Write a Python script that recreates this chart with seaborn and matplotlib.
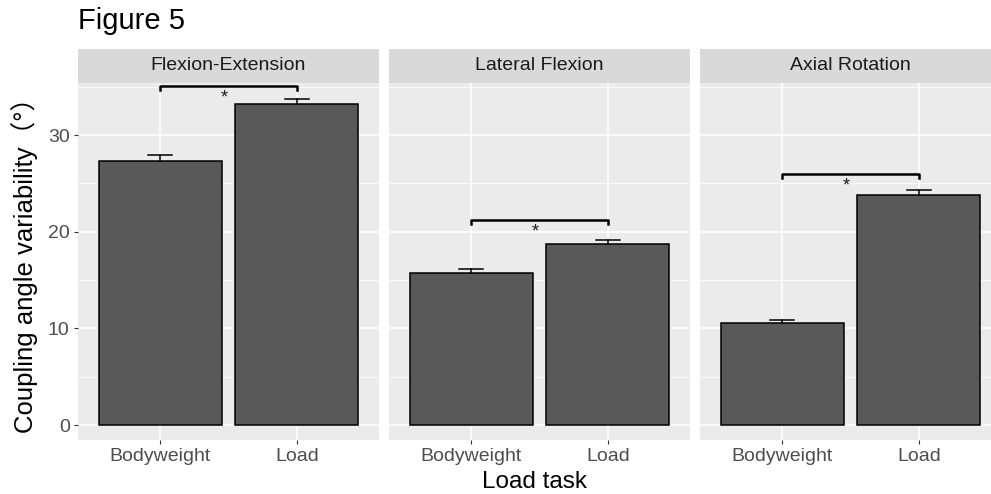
import numpy as np
import pandas as pd
import matplotlib
matplotlib.use("Agg")
import matplotlib.pyplot as plt
import seaborn as sns

# ---- data ----
panels = ["Flexion-Extension", "Lateral Flexion", "Axial Rotation"]
tasks = ["Bodyweight", "Load"]
means_fe = [27.3, 33.2]
means_lf = [15.7, 18.7]
means_ar = [10.55, 23.8]
se_fe = [0.6, 0.5]
se_lf = [0.5, 0.5]
se_ar = [0.3, 0.55]
bracket_y = [35.05, 21.2, 26.0]
means = [means_fe, means_lf, means_ar]
ses = [se_fe, se_lf, se_ar]
yticks = [0, 10, 20, 30]

plt.rcParams['font.family'] = ['Liberation Sans', 'Noto Sans CJK SC', 'DejaVu Sans']

W, H = 991, 494
fig = plt.figure(figsize=(W / 100, H / 100), dpi=100)

panel_left = [78, 389, 700]
panel_w = 301
panel_top = 83
panel_bot = 440
strip_top = 49

ylim = (-1.55, 35.4)
for i, name in enumerate(panels):
    l = panel_left[i]
    ax = fig.add_axes([l / W, (H - panel_bot) / H, panel_w / W, (panel_bot - panel_top) / H])
    ax.set_facecolor("#EBEBEB")
    df = pd.DataFrame({"task": tasks, "value": means[i], "se": ses[i]})
    ax.set_axisbelow(True)
    sns.barplot(data=df, x="task", y="value", ax=ax, color="#595959",
                edgecolor="black", linewidth=1.1, width=0.9, errorbar=None,
                saturation=1)
    xs = np.arange(len(tasks))
    for x, m, s in zip(xs, df["value"], df["se"]):
        ax.plot([x, x], [m, m + s], color="black", lw=1.1, zorder=3)
        ax.plot([x - 0.09, x + 0.09], [m + s, m + s], color="black", lw=1.1, zorder=3)
    # significance bracket
    by = bracket_y[i]
    ax.plot([xs[0], xs[0], xs[1], xs[1]], [by - 0.4, by, by, by - 0.4],
            color="black", lw=1.8, zorder=4, solid_joinstyle="round")
    ax.text((xs[0] + xs[1]) / 2 - 0.03, by - 0.35, "*", ha="center", va="top",
            fontsize=13, color="#1A1A1A")
    ax.set_xlim(-0.6, 1.6)
    ax.set_ylim(*ylim)
    ax.set_yticks(yticks)
    ax.set_yticks([5, 15, 25, 35], minor=True)
    ax.grid(True, which="major", color="white", lw=1.1)
    ax.grid(True, which="minor", axis="y", color="white", lw=0.55)
    for sp in ax.spines.values():
        sp.set_visible(False)
    ax.tick_params(axis="both", which="major", length=3, color="#333333",
                   labelsize=14, labelcolor="#4D4D4D", pad=3)
    ax.tick_params(axis="y", which="minor", length=0)
    ax.set_xlabel("")
    ax.set_ylabel("")
    if i > 0:
        ax.tick_params(axis="y", which="major", length=0, labelleft=False)
    # strip
    sax = fig.add_axes([l / W, (H - panel_top) / H, panel_w / W, (panel_top - strip_top) / H])
    sax.set_facecolor("#D9D9D9")
    sax.set_xticks([]); sax.set_yticks([])
    for sp in sax.spines.values():
        sp.set_visible(False)
    sax.text(0.5, 0.5, name, ha="center", va="center", fontsize=14,
             color="#1A1A1A", transform=sax.transAxes)

fig.text(78 / W, 1 - 21 / H, "Figure 5", fontsize=21, ha="left", va="center", color="black")
fig.text(0.5 * (78 + 991) / W, 1 - 482 / H, "Load task", fontsize=17.5, ha="center", va="center")
fig.text(25 / W, 1 - 259 / H, "Coupling angle variability（°）", fontsize=18.5,
         rotation=90, ha="center", va="center")

fig.savefig("out.png", dpi=100)
